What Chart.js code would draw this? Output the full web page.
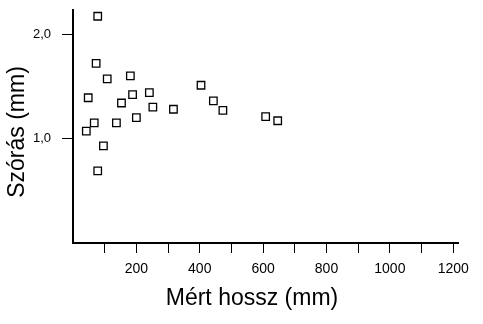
<!DOCTYPE html>
<html><head><meta charset="utf-8">
<script src="https://cdn.jsdelivr.net/npm/chart.js@4/dist/chart.umd.min.js"></script>
<style>html,body{margin:0;padding:0;background:#fff}#wrap{width:483px;height:324px}</style>
</head><body><div id="wrap"><canvas id="c" width="483" height="324"></canvas></div>
<script>
const lengths = [78, 73, 108, 181, 48, 188, 241, 153, 252, 317, 404, 443, 473, 608, 646, 200, 67, 137, 42, 96, 78];
const stdDevs = [2.17, 1.72, 1.57, 1.60, 1.39, 1.42, 1.44, 1.34, 1.30, 1.28, 1.51, 1.36, 1.27, 1.21, 1.17, 1.20, 1.15, 1.15, 1.07, 0.93, 0.69];
const xTickValues = [100,200,300,400,500,600,700,800,900,1000,1100,1200];
const xLabelValues = [200,400,600,800,1000,1200];
const yTickValues = [1, 2];
const xTitle = 'Mért hossz (mm)';
const yTitle = 'Szórás (mm)';

const points = lengths.map((x,i)=>({x, y: stdDevs[i]}));
const FONT = '"Liberation Sans", Arial, sans-serif';
const NARROW = '"Liberation Sans Narrow", "Liberation Sans", Arial, sans-serif';

const titlePlugin = {
  id:'titles',
  afterDraw(chart){
    const ctx = chart.ctx;
    ctx.save();
    ctx.fillStyle = '#000';
    ctx.font = '23px ' + FONT;
    ctx.textAlign = 'center';
    ctx.textBaseline = 'middle';
    ctx.fillText(xTitle, 252, 299);
    ctx.translate(18, 132);
    ctx.rotate(-Math.PI/2);
    ctx.fillText(yTitle, 0, 0);
    ctx.restore();
  }
};

new Chart(document.getElementById('c'), {
  type:'scatter',
  data:{datasets:[{data:points, pointStyle:'rect', pointRadius:5.3, pointHoverRadius:5.3,
    backgroundColor:'rgba(0,0,0,0)', borderColor:'#000', borderWidth:1.3}]},
  options:{
    responsive:false, animation:false, devicePixelRatio:1,
    layout:{padding:{top:10,right:25,left:0,bottom:0}},
    plugins:{legend:{display:false}, tooltip:{enabled:false}},
    scales:{
      x:{type:'linear', min:0, max:1215,
        afterBuildTicks(s){ s.ticks = xTickValues.map(v=>({value:v})); },
        afterFit(s){ s.height = 81; s.paddingLeft = 0; s.paddingRight = 0; },
        grid:{display:true, drawOnChartArea:false, drawTicks:true, tickLength:10, color:'#000', lineWidth:1},
        border:{display:true, color:'#000', width:2},
        ticks:{color:'#000', padding:8, maxRotation:0, autoSkip:false, font:{family:NARROW, size:14},
          callback:(v)=> xLabelValues.includes(v) ? String(v) : ''}
      },
      y:{type:'linear', min:0, max:2.23,
        afterBuildTicks(s){ s.ticks = yTickValues.map(v=>({value:v})); },
        afterFit(s){ s.width = 73; s.paddingTop = 0; s.paddingBottom = 0; },
        grid:{display:true, drawOnChartArea:false, drawTicks:true, tickLength:11, color:'#000', lineWidth:1},
        border:{display:true, color:'#000', width:2},
        ticks:{color:'#000', padding:11, font:{family:NARROW, size:13},
          callback:(v)=> v.toFixed(1).replace('.', ',')}
      }
    }
  },
  plugins:[titlePlugin]
});
</script></body></html>
